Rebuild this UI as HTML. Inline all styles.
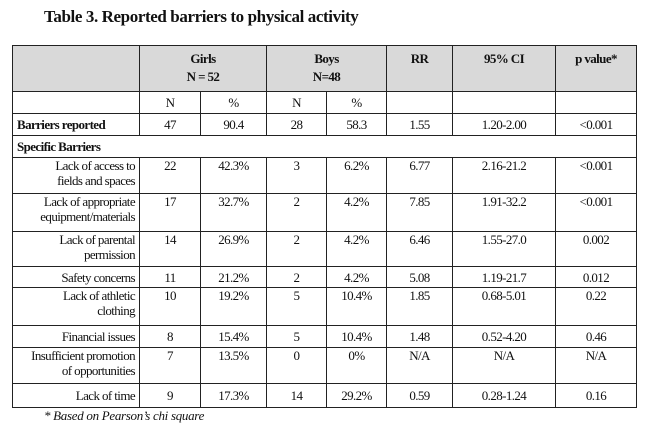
<!DOCTYPE html>
<html><head><style>
body{margin:0;width:662px;height:429px;background:#fff;position:relative;font-family:"Liberation Serif",serif;color:#111;overflow:hidden}
.t{position:absolute;left:44px;top:7px;font-weight:bold;font-size:17px;letter-spacing:-0.4px}
table{position:absolute;left:12px;top:45px;border-collapse:collapse;font-size:13px;table-layout:fixed}
td{border:1.3px solid #222;text-align:center;padding:0 3px;line-height:15px;letter-spacing:-0.6px}
tr.h td{background:#d9d9d9;font-weight:bold;vertical-align:top;padding-top:5px}
td.l{text-align:right;padding-right:4px}
td.b{text-align:left;font-weight:bold;padding-left:4px}
.fn{position:absolute;left:44px;top:408px;font-size:13px;font-style:italic;letter-spacing:-0.3px}
</style></head><body>
<div class="t">Table 3. Reported barriers to physical activity</div>
<table>
<colgroup><col style="width:127px"><col style="width:61px"><col style="width:66px"><col style="width:60px"><col style="width:60px"><col style="width:66px"><col style="width:103px"><col style="width:81px"></colgroup>
<tr class="h" style="height:46px"><td></td><td colspan="2">Girls<br><span style="line-height:22px">N = 52</span></td><td colspan="2">Boys<br><span style="line-height:22px">N=48</span></td><td>RR</td><td>95% CI</td><td>p value*</td></tr>
<tr style="height:22px"><td></td><td>N</td><td>%</td><td>N</td><td>%</td><td></td><td></td><td></td></tr>
<tr style="height:22px"><td class="b">Barriers reported</td><td>47</td><td>90.4</td><td>28</td><td>58.3</td><td>1.55</td><td>1.20-2.00</td><td>&lt;0.001</td></tr>
<tr style="height:22px"><td class="b" colspan="8">Specific Barriers</td></tr>
<tr style="height:36px;vertical-align:top"><td class="l">Lack of access to<br>fields and spaces</td><td>22</td><td>42.3%</td><td>3</td><td>6.2%</td><td>6.77</td><td>2.16-21.2</td><td>&lt;0.001</td></tr>
<tr style="height:38px;vertical-align:top"><td class="l">Lack of appropriate<br>equipment/materials</td><td>17</td><td>32.7%</td><td>2</td><td>4.2%</td><td>7.85</td><td>1.91-32.2</td><td>&lt;0.001</td></tr>
<tr style="height:35px;vertical-align:top"><td class="l">Lack of parental<br>permission</td><td>14</td><td>26.9%</td><td>2</td><td>4.2%</td><td>6.46</td><td>1.55-27.0</td><td>0.002</td></tr>
<tr style="height:21px"><td class="l">Safety concerns</td><td>11</td><td>21.2%</td><td>2</td><td>4.2%</td><td>5.08</td><td>1.19-21.7</td><td>0.012</td></tr>
<tr style="height:38px;vertical-align:top"><td class="l">Lack of athletic<br>clothing</td><td>10</td><td>19.2%</td><td>5</td><td>10.4%</td><td>1.85</td><td>0.68-5.01</td><td>0.22</td></tr>
<tr style="height:22px"><td class="l">Financial issues</td><td>8</td><td>15.4%</td><td>5</td><td>10.4%</td><td>1.48</td><td>0.52-4.20</td><td>0.46</td></tr>
<tr style="height:36px;vertical-align:top"><td class="l">Insufficient promotion<br>of opportunities</td><td>7</td><td>13.5%</td><td>0</td><td>0%</td><td>N/A</td><td>N/A</td><td>N/A</td></tr>
<tr style="height:24px"><td class="l">Lack of time</td><td>9</td><td>17.3%</td><td>14</td><td>29.2%</td><td>0.59</td><td>0.28-1.24</td><td>0.16</td></tr>
</table>
<div class="fn">* Based on Pearson’s chi square</div>
</body></html>
